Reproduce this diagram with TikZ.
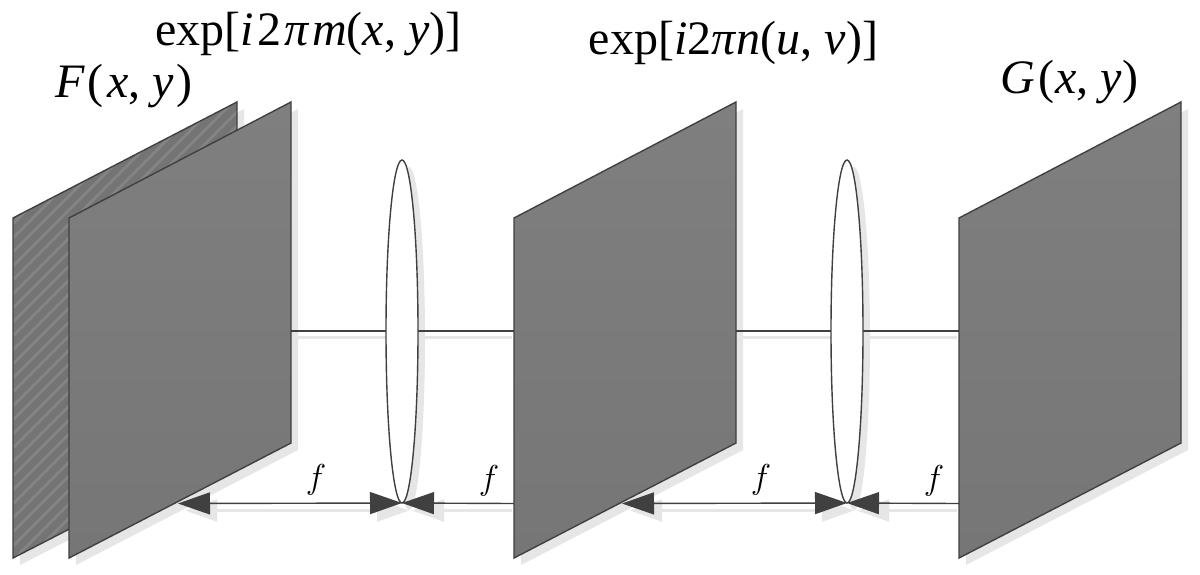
\documentclass[tikz,border=0pt]{standalone}
\usepackage{fontspec}
\setmainfont{Liberation Serif}
\usetikzlibrary{arrows.meta,shapes.geometric}
\definecolor{planetop}{HTML}{7F7F7F}
\definecolor{planebottom}{HTML}{767676}
\definecolor{edgegrey}{HTML}{404040}
\definecolor{shadowgrey}{HTML}{E6E6E6}
\definecolor{stripelight}{HTML}{848484}
\definecolor{stripedark}{HTML}{747474}
\tikzset{
  planebody/.style={top color=planetop,bottom color=planebottom,draw=edgegrey,line width=0.7pt,line join=miter},
  planeshadow/.style={fill=shadowgrey,draw=none},
  axisline/.style={draw=edgegrey,line width=0.7pt},
  axisshadow/.style={draw=shadowgrey,line width=1.1pt},
  lens/.style={ellipse,draw=edgegrey,fill=white,line width=0.7pt,minimum width=16pt,minimum height=171.5pt,inner sep=0pt,outer sep=0pt},
  lensshadow/.style={ellipse,fill=shadowgrey,draw=none,minimum width=16pt,minimum height=171.5pt,inner sep=0pt,outer sep=0pt},
  dimarrow/.style={draw=edgegrey,line width=0.7pt,{Triangle[length=16pt,width=11pt,fill=edgegrey,color=edgegrey]}-{Triangle[length=16pt,width=11pt,fill=edgegrey,color=edgegrey]}},
  dimend/.style={draw=edgegrey,line width=0.7pt,-{Triangle[length=16pt,width=11pt,fill=edgegrey,color=edgegrey]}},
  dimshadow/.style={draw=shadowgrey,line width=1.1pt,{Triangle[length=16pt,width=11pt,fill=shadowgrey,color=shadowgrey]}-{Triangle[length=16pt,width=11pt,fill=shadowgrey,color=shadowgrey]}},
  dimendshadow/.style={draw=shadowgrey,line width=1.1pt,-{Triangle[length=16pt,width=11pt,fill=shadowgrey,color=shadowgrey]}},
  formula/.style={anchor=base,font=\fontsize{24}{28}\selectfont,inner sep=0pt},
  flabel/.style={anchor=base,font=\fontsize{16}{18}\selectfont,inner sep=0pt},
}
\newcommand{\shadowat}[1]{%
  \path[planeshadow] (#1+7,225) -- (#1+229,109) -- (#1+229,450) -- (#1+7,565) -- cycle;
}
\newcommand{\planeat}[1]{%
  \path[planebody] (#1,218) -- (#1+222,102) -- (#1+222,443) -- (#1,558) -- cycle;
}
\newcommand{\kn}{\kern 0.06em}
\begin{document}
\begin{tikzpicture}[x=0.5pt,y=-0.5pt]
\useasboundingbox (0,0) rectangle (1200,574);
\fill[white] (0,0) rectangle (1200,574);
% shadows of the planes
\path[planeshadow] (20,225) -- (244,109) -- (244,450) -- (20,565) -- cycle;
\shadowat{69}
\shadowat{514}
\shadowat{959}
% back plane with woven stripes
\begin{scope}
  \clip (13,218) -- (237,102) -- (237,443) -- (13,558) -- cycle;
  \fill[stripelight] (13,102) rectangle (237,558);
  \foreach \s in {0,14,...,840}{
    \draw[stripedark,line width=3.5pt] (\s,90) -- (\s-480,570);
  }
\end{scope}
\draw[edgegrey,line width=0.7pt] (13,218) -- (237,102) -- (237,443) -- (13,558) -- cycle;
% shadows of axis, lenses and dimension lines
\draw[axisshadow] (298,337.5) -- (512,337.5);
\draw[axisshadow] (743,337.5) -- (957,337.5);
\node[lensshadow] at (409,338.5) {};
\node[lensshadow] at (854,338.5) {};
\draw[dimshadow] (185,510.5) -- (409,510.5);
\draw[dimendshadow] (512,510.5) -- (412,510.5);
\draw[dimshadow] (630,510.5) -- (854,510.5);
\draw[dimendshadow] (957,510.5) -- (857,510.5);
\planeat{69}
\planeat{514}
\planeat{959}
% anchors on the plane edges
\coordinate (frontAxis) at (291,331);
\coordinate (midAxisL) at (514,331);
\coordinate (midAxisR) at (736,331);
\coordinate (rightAxis) at (959,331);
\coordinate (frontFoot) at (178,503.5);
\coordinate (midFootL) at (514,503.5);
\coordinate (midFootT) at (622,503.5);
\coordinate (rightFoot) at (959,503.5);
% axis and lenses
\draw[axisline] (frontAxis) -- (midAxisL);
\draw[axisline] (midAxisR) -- (rightAxis);
\node[lens] (lensA) at (402,331.5) {};
\node[lens] (lensB) at (847,331.5) {};
% dimension arrows
\draw[dimarrow] (frontFoot) -- (lensA.south);
\draw[dimend] (midFootL) -- (lensA.south);
\draw[dimarrow] (midFootT) -- (lensB.south);
\draw[dimend] (rightFoot) -- (lensB.south);
% labels
\node[formula] (expM) at (308.5,45) {exp[\textit{i}\kn 2\kn\textit{π}\kn\textit{m}(\textit{x}, \textit{y})]};
\node[formula] (expN) at (733.5,54) {exp[\textit{i}2\textit{π}\textit{n}(\textit{u}, \textit{v})]};
\node[formula] (nameF) at (124,97) {\textit{F}\kn(\kern 0.08em\textit{x}, \textit{y}\kern 0.06em)};
\node[formula] (nameG) at (1069.5,93) {\textit{G}\kn(\kern 0.03em\textit{x}, \textit{y})};
\node[flabel] (fA) at (316,488) {$f$};
\node[flabel] (fB) at (489,489) {$f$};
\node[flabel] (fC) at (761,488) {$f$};
\node[flabel] (fD) at (934,489) {$f$};
\end{tikzpicture}
\end{document}
